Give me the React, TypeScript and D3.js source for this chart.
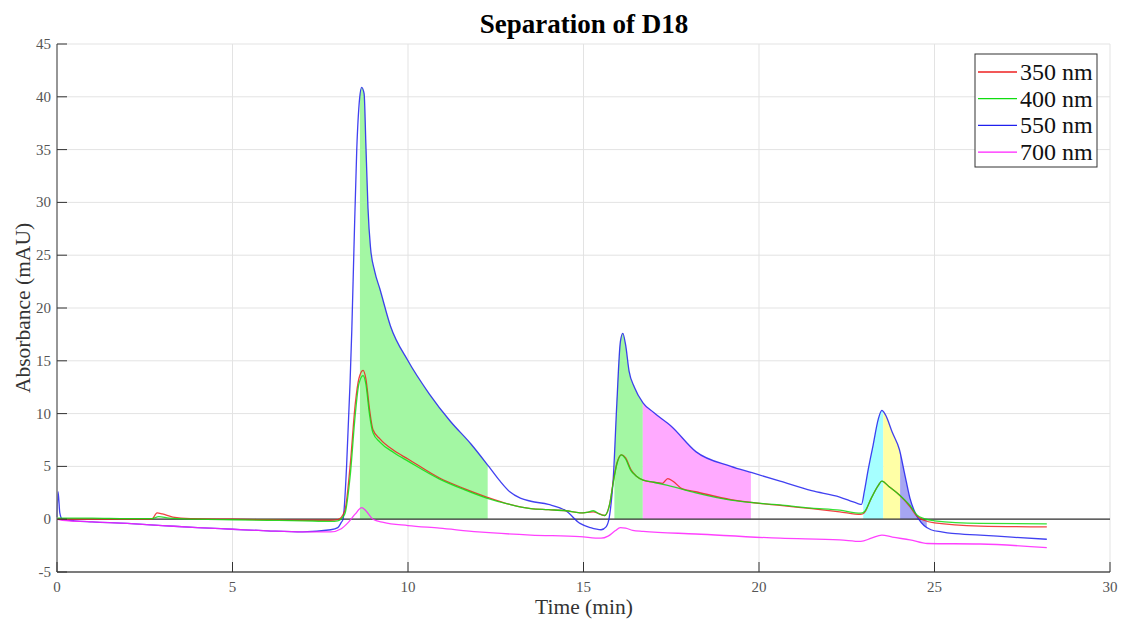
import React from "react";
import * as d3 from "d3";

const W = 1121;
const H = 619;

const xTicks = [0, 5, 10, 15, 20, 25, 30];
const yTicks = [-5, 0, 5, 10, 15, 20, 25, 30, 35, 40, 45];

const legendLabels = ["350 nm", "400 nm", "550 nm", "700 nm"];
const seriesColors = ["#ee2020", "#10dd10", "#2020ee", "#ff20ff"];

// [time (min), absorbance (mAU)]
const red350: [number, number][] = [
  [0, 0.0], [1, 0.0], [2, 0.0], [2.7, 0.0], [2.85, 0.6], [3.0, 0.5], [3.3, 0.2], [3.8, 0.05],
  [5, 0.0], [6, -0.05], [7, -0.1], [7.8, -0.1], [8.0, -0.05], [8.2, 0.8], [8.35, 5], [8.5, 11],
  [8.6, 13.3], [8.72, 14.1], [8.8, 13.3], [8.9, 10.5], [9.0, 8.5], [9.2, 7.6], [9.6, 6.5],
  [10.0, 5.7], [10.9, 3.9], [11.6, 2.9], [12.24, 2.1], [12.9, 1.4], [13.5, 1.0], [14.0, 0.9],
  [14.5, 0.8], [14.9, 0.6], [15.28, 0.7], [15.6, 0.35], [15.75, 1.5], [15.85, 3.6], [15.95, 5.3],
  [16.08, 6.1], [16.2, 5.8], [16.35, 4.7], [16.5, 4.1], [16.7, 3.7], [17.0, 3.5], [17.25, 3.4],
  [17.4, 3.85], [17.55, 3.6], [17.8, 2.9], [18.2, 2.6], [19.2, 1.85], [20.6, 1.3], [21.5, 1.0],
  [22.3, 0.7], [22.9, 0.45], [23.0, 0.6], [23.2, 2.0], [23.4, 3.2], [23.5, 3.6], [23.7, 3.1],
  [24.0, 2.3], [24.3, 1.2], [24.5, 0.3], [24.7, -0.1], [25.0, -0.35], [26.3, -0.65], [28.2, -0.73],
];

const green400: [number, number][] = [
  [0, 0.1], [1, 0.1], [2, 0.05], [2.7, 0.05], [2.9, 0.25], [3.2, 0.1], [4, 0.0], [5, -0.05],
  [6, -0.1], [7, -0.15], [7.8, -0.2], [8.0, -0.15], [8.2, 0.5], [8.35, 4], [8.5, 10], [8.6, 12.8],
  [8.72, 13.6], [8.8, 12.8], [8.9, 10], [9.0, 8.2], [9.2, 7.3], [9.6, 6.3], [10.0, 5.5],
  [10.9, 3.8], [11.6, 2.8], [12.24, 2.0], [12.9, 1.4], [13.5, 1.0], [14.0, 0.9], [14.5, 0.8],
  [14.9, 0.6], [15.1, 0.65], [15.28, 0.8], [15.45, 0.5], [15.6, 0.35], [15.75, 1.5], [15.85, 3.5],
  [15.95, 5.2], [16.08, 6.1], [16.2, 5.7], [16.35, 4.6], [16.5, 4.1], [16.7, 3.7], [17.0, 3.5],
  [17.4, 3.2], [18.2, 2.5], [19.2, 1.8], [20.6, 1.35], [21.5, 1.05], [22.3, 0.85], [22.9, 0.57],
  [23.0, 0.7], [23.2, 2.0], [23.4, 3.2], [23.5, 3.6], [23.7, 3.1], [24.0, 2.3], [24.3, 1.3],
  [24.5, 0.4], [24.7, 0.05], [25.0, -0.15], [26.3, -0.4], [28.2, -0.45],
];

const blue550: [number, number][] = [
  [0, 0.2], [0.03, 2.6], [0.08, 0.6], [0.15, 0.0], [0.5, -0.15], [1, -0.25], [2, -0.4], [3, -0.6],
  [4, -0.8], [5, -0.95], [6, -1.1], [7, -1.2], [7.8, -1.0], [8.0, -0.8], [8.1, -0.3], [8.15, 0.0],
  [8.25, 5], [8.35, 13], [8.4, 18], [8.46, 25.6], [8.54, 35], [8.62, 39.8], [8.68, 40.9],
  [8.75, 40.3], [8.8, 35.5], [8.86, 29.5], [8.93, 25.8], [9.05, 23.5], [9.2, 21.8], [9.5, 18.3],
  [10.0, 15.0], [10.6, 11.9], [11.2, 9.3], [11.8, 7.1], [12.3, 5.0], [12.6, 3.7], [12.9, 2.6],
  [13.2, 2.0], [13.5, 1.7], [14.0, 1.4], [14.5, 0.8], [14.9, -0.4], [15.2, -0.8], [15.5, -1.0],
  [15.65, -0.7], [15.75, 0.5], [15.85, 4], [15.95, 11], [16.05, 16.8], [16.12, 17.6], [16.2, 16.5],
  [16.3, 14], [16.45, 12.5], [16.7, 11.0], [17.0, 10.1], [17.5, 8.8], [18.2, 6.4], [19.2, 5.0],
  [19.8, 4.4], [20.6, 3.6], [21.5, 2.7], [22.3, 2.1], [22.8, 1.5], [22.92, 1.4], [23.0, 2.6],
  [23.1, 4.5], [23.25, 7], [23.4, 9.5], [23.5, 10.3], [23.6, 9.9], [23.8, 8.2], [24.0, 6.6],
  [24.15, 4.3], [24.3, 2.0], [24.45, 0.6], [24.55, 0], [24.7, -0.6], [24.9, -1.0], [25.2, -1.2],
  [25.5, -1.35], [26.3, -1.5], [27.2, -1.7], [28.2, -1.9],
];

const magenta700: [number, number][] = [
  [0, 0.0], [0.15, -0.1], [1, -0.25], [2, -0.4], [3, -0.6], [4, -0.8], [5, -0.95], [6, -1.1],
  [7, -1.2], [7.8, -1.2], [8.1, -0.9], [8.3, -0.3], [8.5, 0.5], [8.68, 1.1], [8.8, 0.8], [9.0, 0.0],
  [9.3, -0.3], [10.0, -0.6], [10.9, -0.85], [12, -1.2], [13.5, -1.5], [14.9, -1.65], [15.5, -1.8],
  [15.7, -1.6], [15.9, -1.1], [16.05, -0.8], [16.2, -0.85], [16.4, -1.05], [16.7, -1.15],
  [18.2, -1.4], [20.6, -1.8], [22.3, -1.95], [22.9, -2.1], [23.2, -1.8], [23.5, -1.5], [23.8, -1.7],
  [24.3, -1.95], [24.8, -2.3], [26.3, -2.35], [28.2, -2.7],
];

// shaded fractions under the 550 nm trace
const fracStart = [8.63, 15.88, 16.69, 22.97, 23.54, 24.02];
const fracEnd = [12.27, 16.69, 19.77, 23.54, 24.02, 24.78];
const fracColors = ["#a3f7a3", "#a3f7a3", "#ffaaff", "#a6ffff", "#ffffa6", "#a6a6f2"];

export default function App() {
  const m = { l: 57, r: 1110, t: 44, b: 572 };
  const x = d3.scaleLinear().domain([0, 30]).range([m.l, m.r]);
  const y = d3.scaleLinear().domain([-5, 45]).range([m.b, m.t]);

  const line = d3
    .line<[number, number]>()
    .x((d) => x(d[0]))
    .y((d) => y(d[1]))
    .curve(d3.curveMonotoneX);
  const area = d3
    .area<[number, number]>()
    .x((d) => x(d[0]))
    .y0(y(0))
    .y1((d) => y(d[1]))
    .curve(d3.curveMonotoneX);

  const series = [red350, green400, blue550, magenta700];
  const drawOrder = [2, 3, 0, 1];
  const serif = "'Liberation Serif', 'Times New Roman', serif";

  return (
    <svg
      width={W}
      height={H}
      style={{ position: "absolute", left: 0, top: 0, background: "#fff" }}
      fontFamily={serif}
    >
      <defs>
        {fracStart.map((s, i) => (
          <clipPath id={`frac${i}`} key={i}>
            <rect x={x(s)} y={m.t} width={x(fracEnd[i]) - x(s)} height={m.b - m.t} />
          </clipPath>
        ))}
      </defs>
      {xTicks.map((t) => (
        <line key={"gx" + t} x1={x(t)} x2={x(t)} y1={m.t} y2={m.b} stroke="#e3e3e3" strokeWidth={1} />
      ))}
      {yTicks.map((t) => (
        <line key={"gy" + t} x1={m.l} x2={m.r} y1={y(t)} y2={y(t)} stroke="#e3e3e3" strokeWidth={1} />
      ))}
      {fracStart.map((s, i) => (
        <path key={"f" + i} d={area(blue550) || ""} fill={fracColors[i]} clipPath={`url(#frac${i})`} />
      ))}
      <line x1={m.l} x2={m.r} y1={y(0)} y2={y(0)} stroke="#333" strokeWidth={1.2} />
      {drawOrder.map((i) => (
        <path
          key={"s" + i}
          d={line(series[i]) || ""}
          fill="none"
          stroke={seriesColors[i]}
          strokeWidth={1.3}
          strokeOpacity={0.85}
        />
      ))}
      <line x1={m.l} x2={m.l} y1={m.t} y2={m.b} stroke="#777" strokeWidth={1.5} />
      <line x1={m.l} x2={m.r} y1={m.b} y2={m.b} stroke="#555" strokeWidth={1.5} />
      {yTicks.map((t) => (
        <g key={"yt" + t}>
          <line x1={m.l} x2={m.l + 10} y1={y(t)} y2={y(t)} stroke="#333" strokeWidth={1} />
          <text x={m.l - 6} y={y(t) + 5} textAnchor="end" fontSize={15} fill="#555">
            {t}
          </text>
        </g>
      ))}
      {xTicks.map((t) => (
        <g key={"xt" + t}>
          <line x1={x(t)} x2={x(t)} y1={m.b} y2={m.b - 10} stroke="#333" strokeWidth={1} />
          <text x={x(t)} y={m.b + 20} textAnchor="middle" fontSize={15} fill="#555">
            {t}
          </text>
        </g>
      ))}
      <text x={584} y={33} textAnchor="middle" fontSize={27} fontWeight="bold" fill="#000">
        Separation of D18
      </text>
      <text x={584} y={614} textAnchor="middle" fontSize={21.5} fill="#333">
        Time (min)
      </text>
      <text
        transform={`translate(30, ${(m.t + m.b) / 2}) rotate(-90)`}
        textAnchor="middle"
        fontSize={21.5}
        fill="#333"
      >
        Absorbance (mAU)
      </text>
      <rect x={975} y={54} width={122} height={113} fill="#fff" stroke="#333" strokeWidth={1} />
      {legendLabels.map((lab, i) => {
        const cy = 72 + i * 26.7;
        return (
          <g key={"lg" + i}>
            <line x1={978} x2={1017} y1={cy} y2={cy} stroke={seriesColors[i]} strokeWidth={1.3} />
            <text x={1020} y={cy + 8} fontSize={24} fill="#111">
              {lab}
            </text>
          </g>
        );
      })}
    </svg>
  );
}
